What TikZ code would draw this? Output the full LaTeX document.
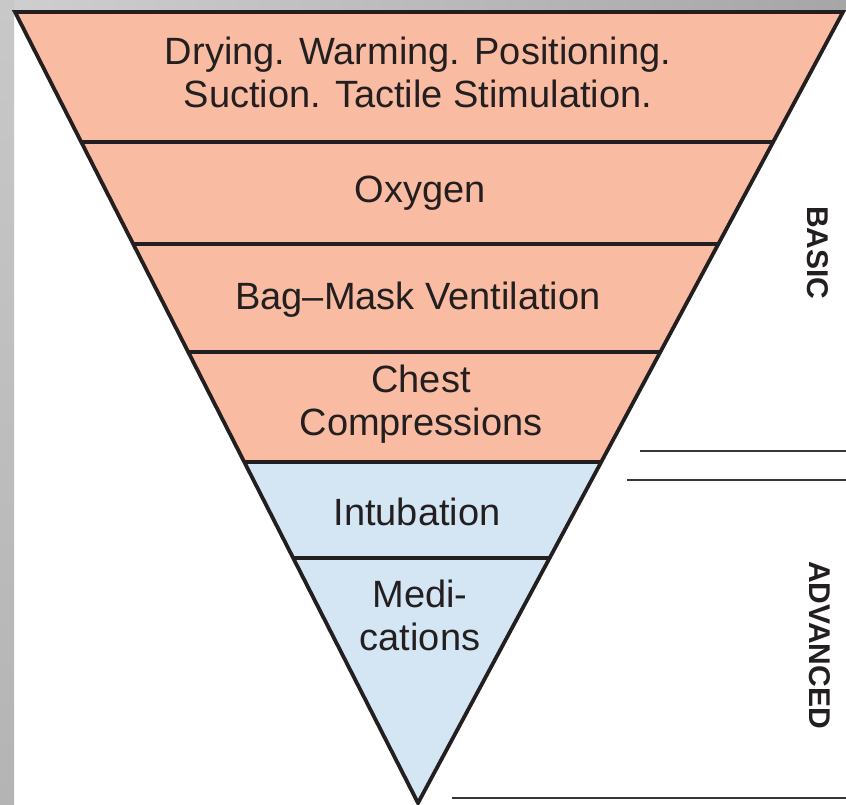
\documentclass[tikz,border=0pt]{standalone}
\usepackage{fontspec}
\setmainfont{Liberation Sans}
\usetikzlibrary{calc}
\definecolor{pinkfill}{HTML}{F9BCA2}
\definecolor{bluefill}{HTML}{D4E5F4}
\definecolor{inkline}{HTML}{231F20}
\definecolor{greylight}{HTML}{CFCFCF}
\definecolor{greydark}{HTML}{A6A6A6}
\definecolor{greyleftA}{HTML}{C8C8C8}
\definecolor{greyleftB}{HTML}{B4B4B4}
\tikzset{
  outline/.style={draw=inkline, line width=3.8pt, line join=miter},
  divider/.style={draw=inkline, line width=3.6pt},
  sideline/.style={draw=inkline!90, line width=2.4pt},
  lbl/.style={align=center, text=inkline, inner sep=0pt, font=\fontsize{38}{43}\selectfont},
  sidelbl/.style={text=inkline, inner sep=0pt, rotate=-90, font=\fontsize{30}{34}\selectfont\bfseries}
}
\begin{document}
\begin{tikzpicture}[x=1pt,y=-1pt]
\useasboundingbox (0,0) rectangle (846,805);
\fill[white] (0,0) rectangle (846,805);
% grey frame
\shade[left color=greylight, right color=greydark] (0,0) rectangle (846,11);
\shade[top color=greyleftA, bottom color=greyleftB] (0,0) rectangle (14,805);
% triangle geometry
\coordinate (TL) at (15,12);
\coordinate (TR) at (843,12);
\coordinate (A) at (418,803);
\coordinate (L1) at ($(TL)!0.16435!(A)$);
\coordinate (R1) at ($(TR)!0.16435!(A)$);
\coordinate (L2) at ($(TL)!0.29330!(A)$);
\coordinate (R2) at ($(TR)!0.29330!(A)$);
\coordinate (L3) at ($(TL)!0.42984!(A)$);
\coordinate (R3) at ($(TR)!0.42984!(A)$);
\coordinate (L4) at ($(TL)!0.56890!(A)$);
\coordinate (R4) at ($(TR)!0.56890!(A)$);
\coordinate (L5) at ($(TL)!0.69027!(A)$);
\coordinate (R5) at ($(TR)!0.69027!(A)$);
% fills
\fill[pinkfill] (TL) -- (TR) -- (R4) -- (L4) -- cycle;
\fill[bluefill] (L4) -- (R4) -- (A) -- cycle;
% dividers
\draw[divider] (L1) -- (R1);
\draw[divider] (L2) -- (R2);
\draw[divider] (L3) -- (R3);
\draw[divider] (L4) -- (R4);
\draw[divider] (L5) -- (R5);
% outline
\draw[outline] (TL) -- (TR) -- (A) -- cycle;
% texts
\node[lbl] (t1) at (418,72) {Drying. Warming. Positioning.\\Suction. Tactile Stimulation.};
\node[lbl] (t2) at (420,193) {Oxygen};
\node[lbl] (t3) at (418,300) {Bag--Mask Ventilation};
\node[lbl] (t4) at (421,404) {Chest\\Compressions};
\node[lbl] (t5) at (417,512) {Intubation};
\node[lbl] (t6) at (420,615) {Medi-\\cations};
% side labels
\node[sidelbl] (basic) at (818,253) {BASIC};
\node[sidelbl] (adv) at (820,645) {ADVANCED};
% side lines
\coordinate (s1a) at (640,451); \coordinate (s1b) at (846,451);
\coordinate (s2a) at (627,480); \coordinate (s2b) at (846,480);
\coordinate (s3a) at (452,798); \coordinate (s3b) at (846,798);
\draw[sideline] (s1a) -- (s1b);
\draw[sideline] (s2a) -- (s2b);
\draw[sideline] (s3a) -- (s3b);
\end{tikzpicture}
\end{document}
